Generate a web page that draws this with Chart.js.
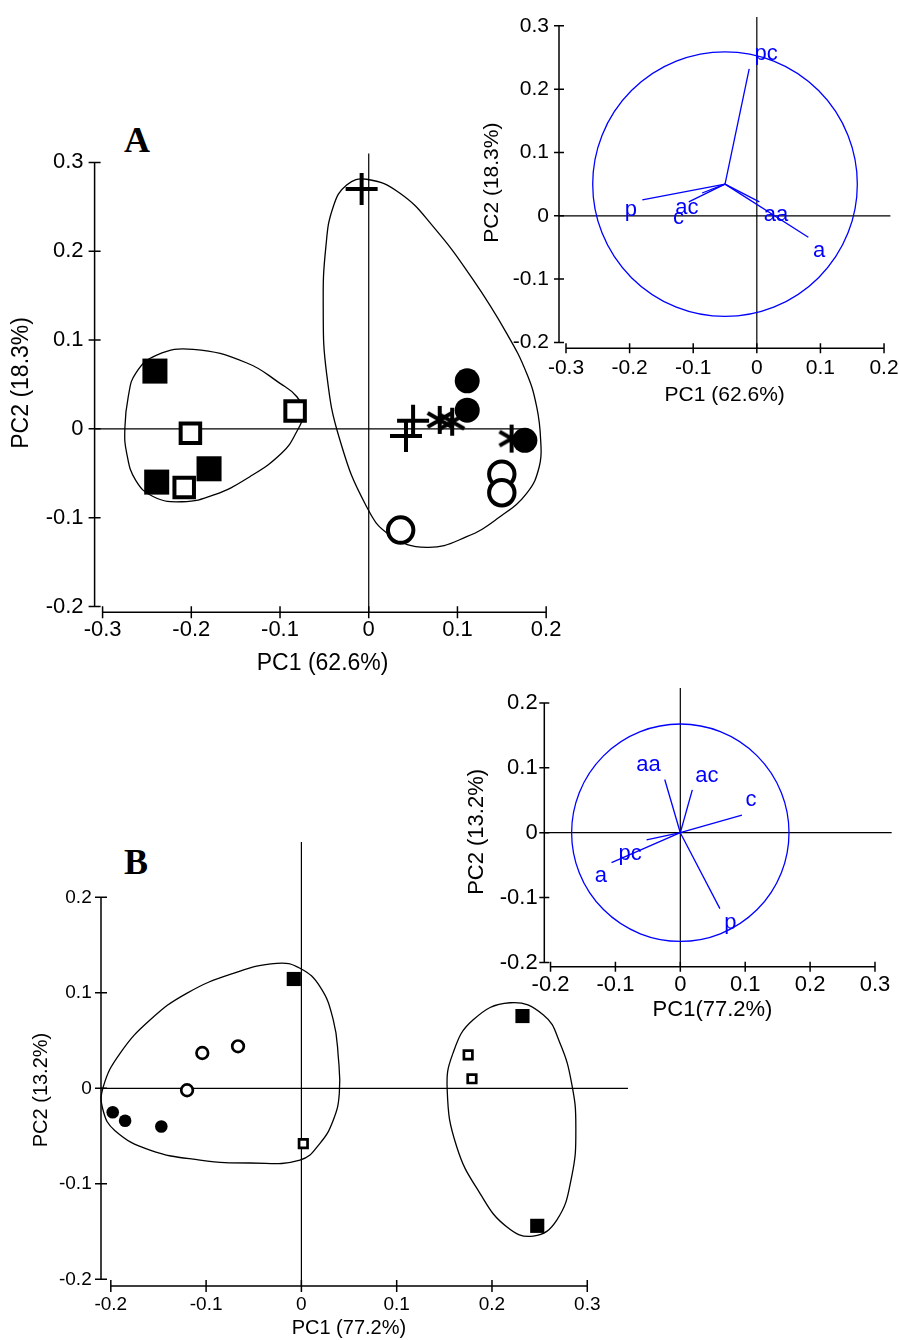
<!DOCTYPE html>
<html lang="en">
<head>
<meta charset="UTF-8">
<title>PCA scores and loadings</title>
<script src="https://cdn.jsdelivr.net/npm/chart.js"></script>
<style>
  html, body { margin: 0; padding: 0; background: #fff; }
  body { width: 899px; height: 1340px; position: relative; overflow: hidden; }
  canvas { position: absolute; }
  .panel { position: absolute; font-family: 'Liberation Serif', 'Times New Roman', serif; font-weight: bold; font-size: 36px; line-height: 1; color: #000; }
</style>
</head>
<body>
<div class="panel" style="left:124px;top:122px">A</div>
<div class="panel" style="left:124px;top:844px">B</div>
<canvas id="aScores" width="580" height="570" style="left:0px;top:120px"></canvas>
<canvas id="aLoads" width="429" height="410" style="left:470px;top:0px"></canvas>
<canvas id="bLoads" width="439" height="360" style="left:460px;top:670px"></canvas>
<canvas id="bScores" width="650" height="510" style="left:0px;top:830px"></canvas>

<script>
// ---------- panel A : scores ----------
const aXTicks = [-0.3, -0.2, -0.1, 0, 0.1, 0.2];
const aYTicks = [-0.2, -0.1, 0, 0.1, 0.2, 0.3];
const aFilledSquare = [[-0.241, 0.065], [-0.239, -0.060], [-0.180, -0.045]];
const aOpenSquare = [[-0.201, -0.005], [-0.208, -0.066], [-0.083, 0.020]];
const aPlus = [[-0.008, 0.270], [0.042, -0.008], [0.050, 0.009]];
const aStar = [[0.080, 0.010], [0.094, 0.008], [0.161, -0.011]];
const aFilledCircle = [[0.111, 0.054], [0.111, 0.021], [0.176, -0.013]];
const aOpenCircle = [[0.036, -0.114], [0.150, -0.051], [0.150, -0.072]];
const aHullLeft = [
  [-0.239, 0.083], [-0.198, 0.0895], [-0.138, 0.0744], [-0.100, 0.0512], [-0.081, 0.0361],
  [-0.074, 0.0178], [-0.082, -0.0047], [-0.098, -0.0273], [-0.134, -0.0539], [-0.1745, -0.0745],
  [-0.2106, -0.0821], [-0.2426, -0.0765], [-0.2628, -0.0577], [-0.2728, -0.0276], [-0.2749, 0.0006],
  [-0.2711, 0.0361], [-0.2625, 0.0628]
];
const aHullRight = [
  [-0.0024, 0.281], [0.0352, 0.2652], [0.0727, 0.2276], [0.1178, 0.1676], [0.1555, 0.1075],
  [0.178, 0.0625], [0.1893, 0.0249], [0.1938, -0.0126], [0.1922, -0.0427], [0.178, -0.0726],
  [0.1479, -0.099], [0.1104, -0.1215], [0.0653, -0.1334], [0.0239, -0.1196], [-0.0024, -0.0877],
  [-0.0325, -0.0126], [-0.0475, 0.0625], [-0.0513, 0.1375], [-0.0483, 0.2051], [-0.040, 0.2501],
  [-0.0249, 0.2745]
];

// ---------- panel A : loadings ----------
const aLoadVars = ['pc', 'p', 'ac', 'c', 'aa', 'a'];
const aLoadEnds = [[-0.012, 0.232], [-0.180, 0.025], [-0.107, 0.022], [-0.086, 0.036], [0.004, 0.022], [0.081, -0.034]];
const aLoadLabelPos = [[0.0145, 0.256], [-0.198, 0.010], [-0.110, 0.013], [-0.123, -0.003], [0.030, 0.001], [0.098, -0.055]];
const aLoadOrigin = [-0.050, 0.050];
const aCircleRadius = 0.208;

// ---------- panel B : loadings ----------
const bLoadXTicks = [-0.2, -0.1, 0, 0.1, 0.2, 0.3];
const bLoadYTicks = [-0.2, -0.1, 0, 0.1, 0.2];
const bLoadVars = ['aa', 'ac', 'c', 'pc', 'a', 'p'];
const bLoadEnds = [[-0.024, 0.082], [0.0185, 0.066], [0.095, 0.027], [-0.052, -0.011], [-0.106, -0.046], [0.061, -0.117]];
const bLoadLabelPos = [[-0.049, 0.105], [0.041, 0.088], [0.109, 0.050], [-0.0775, -0.032], [-0.1225, -0.066], [0.077, -0.139]];
const bLoadOrigin = [0, 0];
const bCircleRadius = 0.1675;

// ---------- panel B : scores ----------
const bXTicks = [-0.2, -0.1, 0, 0.1, 0.2, 0.3];
const bYTicks = [-0.2, -0.1, 0, 0.1, 0.2];
const bFilledSquare = [[-0.008, 0.1145], [0.232, 0.0757], [0.2475, -0.144]];
const bOpenSquare = [[0.002, -0.058], [0.175, 0.035], [0.179, 0.010]];
const bOpenCircle = [[-0.104, 0.037], [-0.0665, 0.044], [-0.120, -0.002]];
const bFilledCircle = [[-0.198, -0.025], [-0.185, -0.034], [-0.147, -0.040]];
const bHullLeft = [
  [-0.2079, 0.0017], [-0.1903, 0.0366], [-0.1589, 0.0715], [-0.1204, 0.0995], [-0.0715, 0.1204],
  [-0.0259, 0.1309], [-0.0015, 0.1257], [0.0195, 0.1064], [0.0335, 0.0715], [0.0387, 0.0331],
  [0.0398, -0.0052], [0.0335, -0.0332], [0.0195, -0.0576], [-0.0015, -0.0751], [-0.0539, -0.0782],
  [-0.1064, -0.0751], [-0.1589, -0.0646], [-0.1956, -0.0443], [-0.2082, -0.0227]
];
const bHullRight = [
  [0.219, 0.0896], [0.254, 0.0768], [0.2714, 0.0471], [0.2836, 0.0052], [0.288, -0.0402],
  [0.2836, -0.0926], [0.268, -0.138], [0.2433, -0.1547], [0.2154, -0.145], [0.1874, -0.110],
  [0.163, -0.0612], [0.153, -0.0018], [0.159, 0.0366], [0.180, 0.0715]
];

const FONT = "'Liberation Sans', Arial, Helvetica, sans-serif";
const BLUE = '#0000ff';

const xy = pts => pts.map(([x, y]) => ({ x, y }));

// six-armed asterisk used as a point style
function asteriskImage(size, lw) {
  const c = document.createElement('canvas');
  c.width = c.height = size;
  const g = c.getContext('2d');
  const m = size / 2, r = size / 2 - 1;
  g.strokeStyle = '#000';
  g.lineWidth = lw;
  g.beginPath();
  [90, 30, 150].forEach(a => {
    const t = a * Math.PI / 180;
    g.moveTo(m - r * Math.cos(t), m - r * Math.sin(t));
    g.lineTo(m + r * Math.cos(t), m + r * Math.sin(t));
  });
  g.stroke();
  return c;
}

function marks(pts, style, radius, fill, bw) {
  return {
    data: xy(pts), pointStyle: style, pointRadius: radius,
    pointBackgroundColor: fill, pointBorderColor: '#000', pointBorderWidth: bw,
    order: 1, clip: false
  };
}

// closed smooth outline: wrap the ring and hide the two helper segments
function hull(pts) {
  const n = pts.length;
  return {
    data: xy([pts[n - 1], ...pts, pts[0], pts[1]]),
    showLine: true, tension: 0.45, capBezierPoints: false,
    borderColor: '#000', borderWidth: 1.3, pointRadius: 0, order: 5, clip: false,
    segment: {
      borderColor: c => (c.p0DataIndex === 0 || c.p0DataIndex === n + 1) ? 'rgba(0,0,0,0)' : undefined
    }
  };
}

function loadingSets(origin, ends, radius) {
  const sets = ends.map(e => ({
    data: xy([origin, e]), showLine: true, tension: 0,
    borderColor: BLUE, borderWidth: 1.3, pointRadius: 0, order: 3, clip: false
  }));
  sets.push({
    data: xy([origin]), pointStyle: 'circle',
    pointBackgroundColor: 'rgba(0,0,0,0)', pointBorderColor: BLUE, pointBorderWidth: 1.3,
    order: 3, clip: false,
    pointRadius: c => {
      const s = c.chart.scales.x;
      return Math.abs(s.getPixelForValue(radius) - s.getPixelForValue(0));
    }
  });
  return sets;
}

// offset axes with crossing ticks, zero lines, variable labels
function axesPlugin(g) {
  return {
    id: 'pcaAxes',
    beforeDatasetsDraw(chart) {
      const { ctx, chartArea: a, scales: { x, y } } = chart;
      const X = v => x.getPixelForValue(v), Y = v => y.getPixelForValue(v);
      ctx.save();
      ctx.strokeStyle = '#000';
      ctx.lineWidth = 1.5;
      ctx.beginPath();
      ctx.moveTo(X(g.x.ticks[0]), a.bottom);
      ctx.lineTo(X(g.x.ticks[g.x.ticks.length - 1]), a.bottom);
      g.x.ticks.forEach(v => { ctx.moveTo(X(v), a.bottom - g.tick); ctx.lineTo(X(v), a.bottom + g.tick); });
      ctx.moveTo(a.left, Y(g.y.ticks[0]));
      ctx.lineTo(a.left, Y(g.y.ticks[g.y.ticks.length - 1]));
      g.y.ticks.forEach(v => { ctx.moveTo(a.left - g.tick, Y(v)); ctx.lineTo(a.left + g.tick, Y(v)); });
      ctx.stroke();
      ctx.lineWidth = 1.2;
      ctx.beginPath();
      ctx.moveTo(X(0), Y(g.zeroTop));
      ctx.lineTo(X(0), a.bottom);
      ctx.moveTo(a.left, Y(0));
      ctx.lineTo(X(g.zeroRight), Y(0));
      ctx.stroke();
      ctx.restore();
    },
    afterDatasetsDraw(chart) {
      if (!g.names) return;
      const { ctx, scales: { x, y } } = chart;
      ctx.save();
      ctx.fillStyle = BLUE;
      ctx.font = '22px ' + FONT;
      ctx.textAlign = 'center';
      ctx.textBaseline = 'middle';
      g.names.forEach((t, i) => ctx.fillText(t, x.getPixelForValue(g.namePos[i][0]), y.getPixelForValue(g.namePos[i][1])));
      ctx.restore();
    }
  };
}

function axis(s, dir, g) {
  return {
    type: 'linear', min: s.min, max: s.max, bounds: 'data',
    grid: { display: false, drawTicks: false },
    border: { display: false },
    afterBuildTicks: sc => { sc.ticks = s.ticks.map(value => ({ value })); },
    afterFit: sc => {
      if (dir === 'x') { sc.height = s.band; sc.paddingLeft = 0; sc.paddingRight = 0; }
      else { sc.width = s.band; sc.paddingTop = 0; sc.paddingBottom = 0; }
    },
    ticks: {
      color: '#000', autoSkip: false, maxRotation: 0, padding: s.tickPad,
      font: { family: FONT, size: g.tickSize },
      callback: v => String(v)
    },
    title: {
      display: true, text: s.title, color: '#000',
      font: { family: FONT, size: g.titleSize },
      padding: dir === 'x' ? { top: 0, bottom: s.titlePad } : { top: s.titlePad, bottom: 0 }
    }
  };
}

function pcaChart(id, g) {
  return new Chart(document.getElementById(id), {
    type: 'scatter',
    data: { datasets: g.datasets },
    plugins: [axesPlugin(g)],
    options: {
      responsive: false, animation: false, events: [], devicePixelRatio: 1,
      layout: { padding: { left: 0, top: g.padTop, right: g.padRight, bottom: 0 } },
      plugins: { legend: { display: false }, tooltip: { enabled: false } },
      elements: { line: { capBezierPoints: false } },
      scales: { x: axis(g.x, 'x', g), y: axis(g.y, 'y', g) }
    }
  });
}

const star = asteriskImage(30, 4);

pcaChart('aScores', {
  padTop: 33.5, padRight: 29.4, tick: 6, tickSize: 22, titleSize: 23,
  zeroTop: 0.31, zeroRight: 0.18,
  x: { min: -0.309, max: 0.205, ticks: aXTicks, band: 77.7, tickPad: 4.5, title: 'PC1 (62.6%)', titlePad: 12.5 },
  y: { min: -0.2066, max: 0.31, ticks: aYTicks, band: 94.6, tickPad: 11, title: 'PC2 (18.3%)', titlePad: 8.2 },
  datasets: [
    marks(aFilledSquare, 'rect', 17.7, '#000', 0),
    marks(aOpenSquare, 'rect', 13.8, '#fff', 4),
    marks(aOpenCircle, 'circle', 12.7, '#fff', 4),
    marks(aFilledCircle, 'circle', 12.5, '#000', 0),
    marks(aPlus, 'cross', 16, '#000', 4),
    marks(aStar, star, 15, '#000', 0),
    hull(aHullLeft),
    hull(aHullRight)
  ]
});

pcaChart('aLoads', {
  padTop: 17, padRight: 8.6, tick: 5, tickSize: 21, titleSize: 21,
  zeroTop: 0.314, zeroRight: 0.21,
  names: aLoadVars, namePos: aLoadLabelPos,
  x: { min: -0.311, max: 0.21, ticks: aXTicks, band: 61.7, tickPad: 7.1, title: 'PC1 (62.6%)', titlePad: 2.4 },
  y: { min: -0.2093, max: 0.314, ticks: aYTicks, band: 89, tickPad: 10, title: 'PC2 (18.3%)', titlePad: 9.4 },
  datasets: loadingSets(aLoadOrigin, aLoadEnds, aCircleRadius)
});

pcaChart('bLoads', {
  padTop: 27.1, padRight: 18.3, tick: 5, tickSize: 22, titleSize: 22,
  zeroTop: 0.223, zeroRight: 0.3257,
  names: bLoadVars, namePos: bLoadLabelPos,
  x: { min: -0.2096, max: 0.3088, ticks: bLoadXTicks, band: 63.3, tickPad: 5.1, title: 'PC1(77.2%)', titlePad: 6.8 },
  y: { min: -0.2065, max: 0.209, ticks: bLoadYTicks, band: 84.3, tickPad: 6.6, title: 'PC2 (13.2%)', titlePad: 3.3 },
  datasets: loadingSets(bLoadOrigin, bLoadEnds, bCircleRadius)
});

pcaChart('bScores', {
  padTop: 64, padRight: 53.2, tick: 6, tickSize: 19, titleSize: 20,
  zeroTop: 0.258, zeroRight: 0.3427,
  x: { min: -0.2103, max: 0.31, ticks: bXTicks, band: 54, tickPad: 6.9, title: 'PC1 (77.2%)', titlePad: 0 },
  y: { min: -0.207, max: 0.2035, ticks: bYTicks, band: 101, tickPad: 9.3, title: 'PC2 (13.2%)', titlePad: 29 },
  datasets: [
    marks(bFilledSquare, 'rect', 10, '#000', 0),
    marks(bOpenSquare, 'rect', 6, '#fff', 2.7),
    marks(bOpenCircle, 'circle', 5.8, '#fff', 2.7),
    marks(bFilledCircle, 'circle', 6.3, '#000', 0),
    hull(bHullLeft),
    hull(bHullRight)
  ]
});
</script>
</body>
</html>
